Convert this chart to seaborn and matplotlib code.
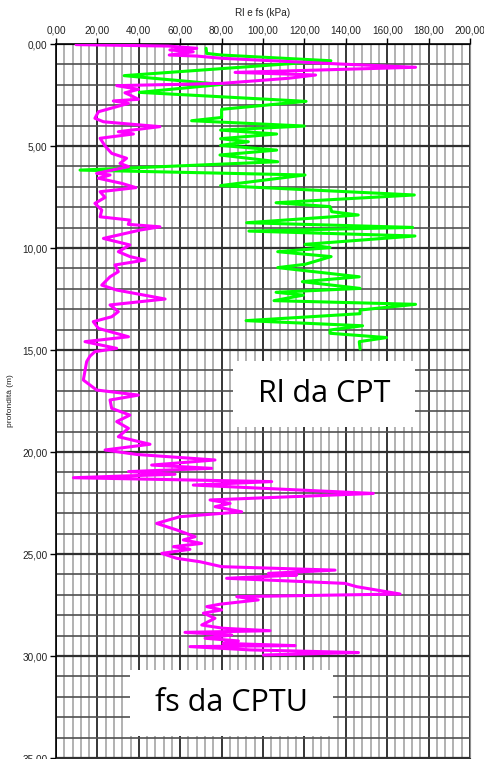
import matplotlib
matplotlib.use("Agg")
import matplotlib.pyplot as plt
from matplotlib.ticker import MultipleLocator, FuncFormatter
from matplotlib.patches import Rectangle
import seaborn as sns
import pandas as pd

# ---- data: Rl da CPT (green) ----
rl_kpa = [72.5, 72.8, 80.0, 132.8, 32.9, 80.0, 40.3, 120.8, 80.0, 80.0, 65.5, 120.0,
          79.5, 106.6, 79.5, 92.9, 79.5, 106.6, 79.2, 107.1, 11.6, 120.3, 79.5, 173.1,
          106.3, 132.4, 133.2, 146.0, 92.1, 172.3, 93.2, 173.4, 120.3, 132.4, 107.1,
          132.9, 120.3, 107.1, 146.5, 119.0, 146.9, 106.3, 119.5, 105.3, 173.7, 146.9,
          146.9, 91.8, 148.1, 132.4, 132.4, 159.7, 146.5, 146.9]
rl_depth = [0.21, 0.46, 0.54, 0.82, 1.55, 1.98, 2.37, 2.81, 3.20, 3.60, 3.76, 4.02,
            4.22, 4.41, 4.64, 4.79, 4.97, 5.20, 5.44, 5.77, 6.18, 6.42, 6.94, 7.40,
            7.78, 7.97, 8.22, 8.38, 8.76, 8.99, 9.17, 9.41, 9.82, 9.98, 10.18,
            10.42, 10.80, 10.96, 11.41, 11.65, 11.98, 12.17, 12.31, 12.58, 12.76, 13.04,
            13.22, 13.56, 13.81, 14.02, 14.18, 14.39, 14.59, 14.95]

# ---- data: fs da CPTU (magenta) ----
fs_kpa = [9.7, 54.3, 68.0, 55.0, 66.3, 54.7, 68.0, 80.0, 137.2, 173.7, 86.5, 125.4,
          112.2, 90.5, 80.0, 29.3, 39.8, 33.3, 35.7, 39.8, 27.7, 35.0, 29.3, 20.5,
          18.8, 22.9, 31.7, 50.2, 30.1, 37.4, 21.3, 23.7, 26.9, 34.1, 30.9, 35.0,
          19.6, 26.1, 20.5, 31.7, 38.6, 21.3, 23.7, 18.8, 22.1, 21.3, 35.7, 34.9,
          50.2, 40.6, 22.9, 35.7, 30.1, 35.7, 43.0, 28.5, 30.1, 26.1, 22.1, 29.3,
          52.7, 26.1, 30.1, 26.9, 18.0, 20.5, 35.0, 14.0, 29.3, 18.8, 16.4, 14.8,
          13.2, 19.6, 39.8, 26.1, 26.9, 35.7, 29.3, 35.0, 30.1, 45.4, 23.7, 39.0,
          76.8, 46.2, 75.2, 35.0, 57.5, 8.4, 104.2, 66.3, 153.3, 74.4, 84.1, 76.8,
          89.7, 59.9, 48.6, 58.3, 67.2, 61.5, 70.4, 56.7, 64.7, 51.1, 58.3, 69.6,
          80.0, 134.8, 102.6, 116.3, 82.4, 139.6, 145.2, 166.2, 87.3, 97.7, 79.2,
          72.8, 80.0, 71.2, 76.8, 70.4, 80.8, 103.4, 62.3, 84.9, 72.0, 88.1, 80.8,
          115.5, 64.7, 93.7, 146.1, 100.2]
fs_depth = [0.03, 0.10, 0.21, 0.29, 0.38, 0.54, 0.59, 0.70, 0.98, 1.14, 1.39, 1.52,
            1.68, 1.85, 1.93, 2.04, 2.22, 2.39, 2.50, 2.71, 2.79, 2.91, 3.07, 3.32,
            3.64, 3.81, 3.89, 4.05, 4.30, 4.41, 4.62, 5.00, 5.36, 5.60, 5.85, 6.01,
            6.34, 6.42, 6.58, 6.83, 7.04, 7.24, 7.52, 7.81, 8.14, 8.47, 8.63, 8.84,
            8.96, 9.12, 9.53, 9.85, 10.18, 10.42, 10.59, 10.83, 11.16, 11.41, 11.82, 12.06,
            12.50, 12.79, 13.12, 13.37, 13.61, 13.94, 14.35, 14.59, 14.92, 15.08, 15.30, 15.57,
            16.47, 16.96, 17.21, 17.45, 17.86, 18.19, 18.51, 18.84, 19.25, 19.62, 19.90, 20.12,
            20.39, 20.64, 20.80, 20.96, 21.09, 21.26, 21.45, 21.62, 22.03, 22.35, 22.52, 22.68,
            22.93, 23.17, 23.50, 23.82, 24.15, 24.31, 24.48, 24.64, 24.77, 24.97, 25.21, 25.38,
            25.62, 25.79, 25.95, 26.03, 26.19, 26.44, 26.60, 26.96, 27.09, 27.25, 27.46,
            27.58, 27.74, 27.90, 28.15, 28.48, 28.64, 28.76, 28.84, 28.97, 29.13, 29.26, 29.38,
            29.49, 29.54, 29.70, 29.83, 29.95]

x_ticks = [0, 20, 40, 60, 80, 100, 120, 140, 160, 180, 200]
y_ticks = [0, 5, 10, 15, 20, 25, 30, 35]

sns.set_style("white")
plt.rcParams['font.family'] = ['Liberation Sans', 'DejaVu Sans']

fig = plt.figure(figsize=(4.85, 7.59), dpi=100)
ax = fig.add_axes([0.1155, 0.0013, 0.8536, 0.9407])

rl_df = pd.DataFrame({"kpa": rl_kpa, "depth": rl_depth})
fs_df = pd.DataFrame({"kpa": fs_kpa, "depth": fs_depth})

sns.lineplot(data=rl_df, x="kpa", y="depth", sort=False, estimator=None,
             color="#00ff00", lw=2.2, ax=ax, zorder=4)
sns.lineplot(data=fs_df, x="kpa", y="depth", sort=False, estimator=None,
             color="#ff00ff", lw=2.2, ax=ax, zorder=5)

ax.set_xlim(0, 200)
ax.set_ylim(35, 0)

ax.xaxis.set_minor_locator(MultipleLocator(4))
ax.yaxis.set_minor_locator(MultipleLocator(1))
ax.set_xticks(x_ticks)
ax.set_yticks(y_ticks)
fmt = FuncFormatter(lambda v, p: f"{v:.2f}".replace(".", ","))
ax.xaxis.set_major_formatter(fmt)
ax.yaxis.set_major_formatter(fmt)

ax.set_axisbelow(True)
ax.grid(which='minor', axis='x', color='#ababab', lw=1.3)
ax.grid(which='major', axis='x', color='black', lw=1.1)
ax.grid(which='minor', axis='y', color='#505050', lw=1.2)
ax.grid(which='major', axis='y', color='#303030', lw=1.6)

ax.xaxis.tick_top()
ax.xaxis.set_label_position('top')
ax.tick_params(axis='x', which='major', direction='out', length=4, width=1,
               labelsize=7.2, pad=2, top=True, bottom=False, colors='black',
               labelcolor='#222222')
ax.tick_params(axis='y', which='major', direction='out', length=4, width=1,
               labelsize=7.2, pad=2, left=True, colors='black',
               labelcolor='#222222')
ax.tick_params(which='minor', length=0)

ax.set_xlabel("Rl e fs (kPa)", fontsize=7.2, labelpad=7, color='#222222')
ax.set_ylabel("")
fig.text(11 / 485, 1 - 401 / 759, "profondità (m)", rotation=90, ha='center',
         va='center', fontsize=6, color='#222222')

for side in ['left', 'top']:
    ax.spines[side].set_color('black')
    ax.spines[side].set_linewidth(1.2)
ax.spines['right'].set_color('#909090')
ax.spines['bottom'].set_color('#303030')

# white label boxes
ax.add_patch(Rectangle((85.5, 15.55), 88.0, 3.2, facecolor='white',
                       edgecolor='none', zorder=3))
ax.text(129.5, 17.15, "Rl da CPT", ha='center', va='center', fontsize=22,
        family='Open Sans', color='black', zorder=6)
ax.add_patch(Rectangle((35.7, 30.7), 98.0, 3.2, facecolor='white',
                       edgecolor='none', zorder=3))
ax.text(84.8, 32.3, "fs da CPTU", ha='center', va='center', fontsize=22,
        family='Open Sans', color='black', zorder=6)

fig.savefig("out.png", dpi=100)
